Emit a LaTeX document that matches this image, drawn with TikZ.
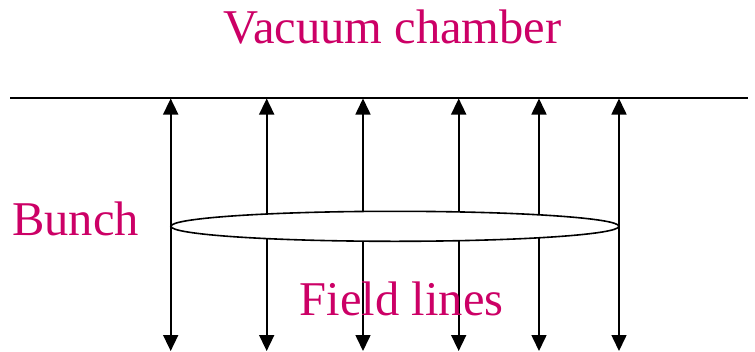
\documentclass[tikz,border=0pt]{standalone}
\usepackage{fontspec}
\setmainfont{Liberation Serif}
\usetikzlibrary{arrows.meta,shapes.geometric}
\definecolor{labelpink}{RGB}{204,0,102}
\begin{document}
\begin{tikzpicture}[x=1pt,y=-1pt,
  lbl/.style={text=labelpink,font=\fontsize{48.5}{52}\selectfont,inner sep=0pt,anchor=base},
  fieldarrow/.style={line width=1.6pt,-{Triangle[length=16pt,width=15pt]}},
  wall/.style={line width=1.8pt}]
\useasboundingbox (0,0) rectangle (755,351);
\coordinate (wl) at (10,98);
\coordinate (wr) at (748,98);
\draw[wall] (wl) -- (wr);
\foreach \i/\x in {1/170.7,2/266.7,3/363,4/458.7,5/539,6/619}{
  \coordinate (m\i) at (\x,226);
  \coordinate (t\i) at (\x,98.5);
  \coordinate (b\i) at (\x,351);
  \draw[fieldarrow] (m\i) -- (t\i);
  \draw[fieldarrow] (m\i) -- (b\i);
}
\node[ellipse,draw,fill=white,line width=1.6pt,minimum width=448pt,minimum height=30pt,inner sep=0pt] (bunch) at (394.9,226.3) {};
\node[lbl] (vac) at (392.5,43) {Vacuum chamber};
\node[lbl] (bunchlbl) at (75.5,235) {Bunch};
\node[lbl] (field) at (401.7,315) {Field lines};
\end{tikzpicture}
\end{document}
